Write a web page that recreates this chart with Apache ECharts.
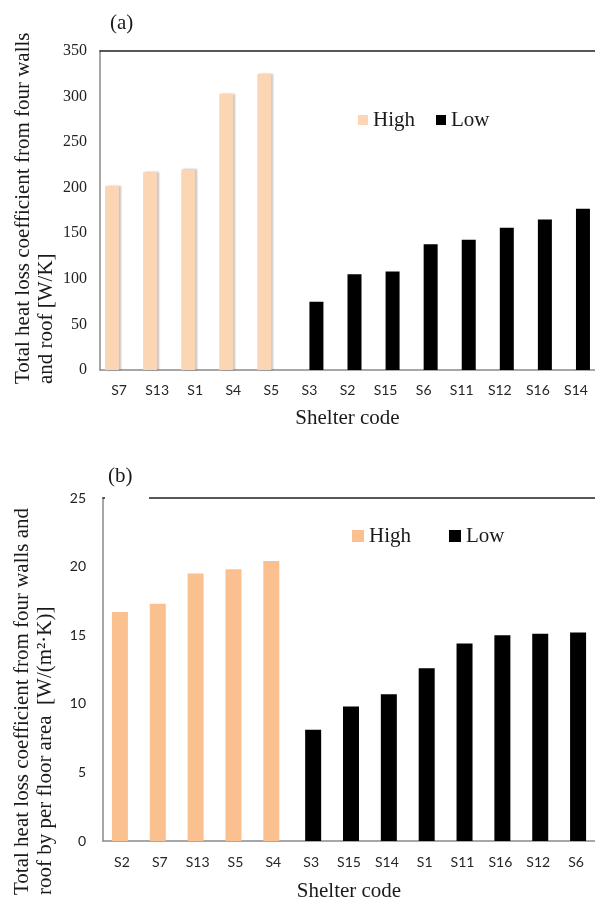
<!DOCTYPE html>
<html>
<head>
<meta charset="utf-8">
<script src="https://cdn.jsdelivr.net/npm/echarts@6/dist/echarts.min.js"></script>
<style>
  html, body { margin: 0; padding: 0; background: #fff; }
  #chart { width: 595px; height: 903px; }
</style>
</head>
<body>
<div id="chart"></div>
<script>
// (a) total heat loss coefficient [W/K]
const catsA = ['S7', 'S13', 'S1', 'S4', 'S5', 'S3', 'S2', 'S15', 'S6', 'S11', 'S12', 'S16', 'S14'];
const highA = [202, 217, 220, 303, 325];
const lowA = [75, 105, 108, 138, 143, 156, 165, 177];

// (b) per floor area [W/(m2K)]
const catsB = ['S2', 'S7', 'S13', 'S5', 'S4', 'S3', 'S15', 'S14', 'S1', 'S11', 'S16', 'S12', 'S6'];
const highB = [16.7, 17.3, 19.5, 19.8, 20.4];
const lowB = [8.1, 9.8, 10.7, 12.6, 14.4, 15.0, 15.1, 15.2];

const yTicksA = { min: 0, max: 350, interval: 50 };
const yTicksB = { min: 0, max: 25, interval: 5 };

const PEACH_A = '#FCD5B5';
const PEACH_B = '#FAC090';
const SERIF = "'Liberation Serif', 'Times New Roman', serif";
const SANS = "Lato, 'Noto Sans', sans-serif";
const AXIS_GREY = '#8a8a8a';

// high group sits first, low group fills the rest
const pad = (arr, before, total) => {
  const out = new Array(total).fill('-');
  arr.forEach((v, i) => { out[before + i] = v; });
  return out;
};

function xAxisBottom(grid, cats, labelMargin, nameGap) {
  return {
    type: 'category', gridIndex: grid, data: cats, position: 'bottom',
    axisLine: { lineStyle: { color: AXIS_GREY, width: 1.5 } },
    axisTick: { show: false },
    axisLabel: { color: '#262626', fontFamily: SANS, fontSize: 14, margin: labelMargin, interval: 0 },
    name: 'Shelter code', nameLocation: 'middle', nameGap: nameGap,
    nameTextStyle: { fontFamily: SERIF, fontSize: 21, color: '#1a1a1a' }
  };
}

function xAxisTop(grid, cats) {
  return {
    type: 'category', gridIndex: grid, data: cats, position: 'top',
    axisLine: { lineStyle: { color: '#222', width: 1.5 } },
    axisTick: { show: false }, axisLabel: { show: false }
  };
}

function yAxis(grid, ticks, font, size, margin) {
  return {
    type: 'value', gridIndex: grid, ...ticks,
    axisLine: { show: true, lineStyle: { color: AXIS_GREY, width: 1.5 } },
    axisTick: { show: false },
    splitLine: { show: false },
    axisLabel: { color: '#222', fontFamily: font, fontSize: size, margin: margin }
  };
}

const chart = echarts.init(document.getElementById('chart'));
const n = catsA.length;

chart.setOption({
  animation: false,
  grid: [
    { left: 100, top: 51, width: 502, height: 319 },
    { left: 103, top: 498, width: 498, height: 346 }
  ],
  xAxis: [
    xAxisBottom(0, catsA, 13, 38),
    xAxisTop(0, catsA),
    xAxisBottom(1, catsB, 14, 40),
    xAxisTop(1, catsB)
  ],
  yAxis: [
    yAxis(0, yTicksA, SERIF, 16, 13),
    yAxis(1, yTicksB, SANS, 14, 17)
  ],
  legend: [
    {
      left: 353, top: 104, itemWidth: 10, itemHeight: 10, itemGap: 21, icon: 'rect',
      textStyle: { fontFamily: SERIF, fontSize: 21, color: '#1a1a1a', lineHeight: 22 },
      data: [{ name: 'High', itemStyle: { color: PEACH_A } }, { name: 'Low', itemStyle: { color: '#000' } }]
    },
    {
      left: 347, top: 520, itemWidth: 12, itemHeight: 12, itemGap: 38, icon: 'rect',
      textStyle: { fontFamily: SERIF, fontSize: 21, color: '#1a1a1a', lineHeight: 22 },
      data: [{ name: 'High', itemStyle: { color: PEACH_B } }, { name: 'Low', itemStyle: { color: '#000' } }]
    }
  ],
  series: [
    {
      name: 'High', type: 'bar', xAxisIndex: 0, yAxisIndex: 0, barWidth: 14, barGap: '0%',
      data: pad(highA, 0, n),
      itemStyle: { color: PEACH_A, shadowColor: 'rgba(0,0,0,0.25)', shadowBlur: 2, shadowOffsetX: 1.5 }
    },
    {
      name: 'Low', type: 'bar', xAxisIndex: 0, yAxisIndex: 0, barWidth: 14, barGap: '0%',
      data: pad(lowA, highA.length, n),
      itemStyle: { color: '#000' }
    },
    {
      name: 'High', type: 'bar', xAxisIndex: 2, yAxisIndex: 1, barWidth: 16, barGap: '-75%',
      data: pad(highB, 0, n),
      itemStyle: { color: PEACH_B }
    },
    {
      name: 'Low', type: 'bar', xAxisIndex: 2, yAxisIndex: 1, barWidth: 16, barGap: '-75%',
      data: pad(lowB, highB.length, n),
      itemStyle: { color: '#000' }
    }
  ],
  graphic: [
    { type: 'text', left: 110, top: 13, style: { text: '(a)', font: '21px ' + SERIF, fill: '#1a1a1a' } },
    { type: 'text', left: 108, top: 466, style: { text: '(b)', font: '21px ' + SERIF, fill: '#1a1a1a' } },
    // gap in the top frame of (b) behind the panel label
    { type: 'rect', z: 100, shape: { x: 105, y: 494, width: 44, height: 8 }, style: { fill: '#fff' } },
    {
      type: 'text', x: 12, y: 384, rotation: Math.PI / 2,
      style: {
        text: 'Total heat loss coefficient from four walls\nand roof [W/K]',
        font: '21px ' + SERIF, fill: '#1a1a1a', lineHeight: 23,
        textAlign: 'left', textVerticalAlign: 'top'
      }
    },
    {
      type: 'text', x: 11, y: 895, rotation: Math.PI / 2,
      style: {
        text: 'Total heat loss coefficient from four walls and\nroof by per floor area  [W/(m\u00B2\u00B7K)]',
        font: '21px ' + SERIF, fill: '#1a1a1a', lineHeight: 23,
        textAlign: 'left', textVerticalAlign: 'top'
      }
    }
  ]
});
</script>
</body>
</html>
